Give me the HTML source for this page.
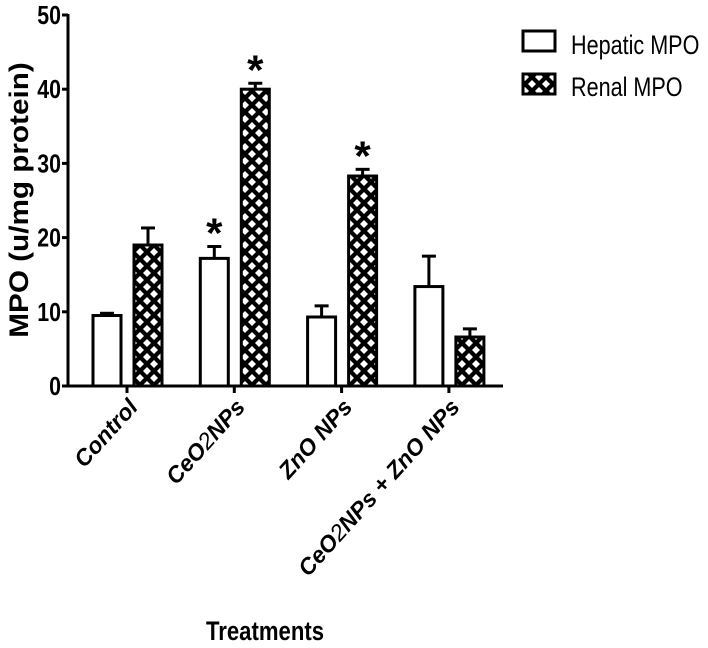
<!DOCTYPE html>
<html><head><meta charset="utf-8"><style>
html,body{margin:0;padding:0;background:#fff;}
svg{display:block;font-family:"Liberation Sans",Arial,sans-serif;}
</style></head><body>
<svg id="chart" width="708" height="648" viewBox="0 0 708 648">
<defs>
<pattern id="hatch" width="14" height="14" patternUnits="userSpaceOnUse" x="0" y="0">
<rect width="14" height="14" fill="#000"/>
<path d="M0,-4 L4,0 L0,4 L-4,0Z M14,-4 L18,0 L14,4 L10,0Z M0,10 L4,14 L0,18 L-4,14Z M14,10 L18,14 L14,18 L10,14Z M7,3 L11,7 L7,11 L3,7Z" fill="#fff"/>
</pattern>
</defs>
<g id="axes"></g>
<g id="bars"></g>
<g id="legend">
<rect x="523" y="31" width="32" height="20" fill="#fff" stroke="#000" stroke-width="3"/>
<text x="571" y="54" font-size="27" transform="translate(571 0) scale(0.8 1) translate(-571 0)">Hepatic MPO</text>
<rect x="523" y="74" width="32" height="20" fill="url(#hatch)" stroke="#000" stroke-width="3"/>
<text x="571" y="96" font-size="27" transform="translate(571 0) scale(0.8 1) translate(-571 0)">Renal MPO</text>
</g>
<text x="0" y="0" font-size="27" font-weight="bold" text-anchor="middle" transform="translate(28 200) rotate(-90) scale(1.1 1)">MPO (u/mg protein)</text>
<text x="265" y="640" font-size="27" font-weight="bold" text-anchor="middle" transform="translate(265 0) scale(0.82 1) translate(-265 0)">Treatments</text>
</svg>
<script>
const categories = ["Control", "CeO2NPs", "ZnO NPs", "CeO2NPs + ZnO NPs"];
const hepatic = [9.5, 17.2, 9.3, 13.4];
const hepaticErr = [0.3, 1.6, 1.5, 4.1];
const renal = [19.0, 40.0, 28.3, 6.6];
const renalErr = [2.3, 0.8, 0.9, 1.1];
const sigHepatic = [false, true, false, false];
const sigRenal = [false, true, true, false];
const yTicks = [0, 10, 20, 30, 40, 50];

const NS = "http://www.w3.org/2000/svg";
const y0 = 386, yTop = 15, yMax = 50;
function yScale(v){ return y0 - (v / yMax) * (y0 - yTop); }
const groupStart = 127, groupStep = 107.3;
function xCenter(i){ return groupStart + i * groupStep; }
function mk(tag, attrs, parent){ const e = document.createElementNS(NS, tag); for (const k in attrs) e.setAttribute(k, attrs[k]); parent.appendChild(e); return e; }

const axes = document.getElementById('axes');
const bars = document.getElementById('bars');
let yl = mk('line', {x1:68, y1:yTop-1, x2:68, y2:y0+1.5, stroke:'#000', 'stroke-width':3}, axes);


let xl = mk('line', {x1:66.5, y1:y0, x2:503, y2:y0, stroke:'#000', 'stroke-width':3}, axes);


yTicks.forEach(t => {
  const y = yScale(t);
  const tk = mk('line', {x1:62, y1:y, x2:68, y2:y, stroke:'#000', 'stroke-width':3}, axes);
  
  
  const lb = mk('text', {x:61, y:y+9, 'font-size':26, 'font-weight':'bold', 'text-anchor':'end', transform:`translate(61 0) scale(0.82 1) translate(-61 0)`}, axes);
  lb.textContent = t;
  
  
});
categories.forEach((c, i) => {
  const x = xCenter(i);
  const tk = mk('line', {x1:x, y1:y0, x2:x, y2:y0+7, stroke:'#000', 'stroke-width':3}, axes);
  
  
  const lb = mk('text', {x:0, y:0, 'font-size':23, 'font-weight':'bold', 'font-style':'italic', 'text-anchor':'end', transform:`translate(${x+12} 408) rotate(-48)`}, axes);
  if (c.indexOf('CeO2') >= 0) {
    const parts = c.split('2');
    lb.appendChild(document.createTextNode(parts[0]));
    const s = document.createElementNS(NS, 'tspan');
    s.setAttribute('font-weight', 'normal');
    s.textContent = '2';
    lb.appendChild(s);
    lb.appendChild(document.createTextNode(parts.slice(1).join('2')));
  } else lb.textContent = c;
  
  
});
const bw = 28;
function drawBar(cx, v, err, sig, hatch, name){
  const top = yScale(v), eTop = yScale(v + err);
  const w = mk('line', {x1:cx, y1:top, x2:cx, y2:eTop, stroke:'#000', 'stroke-width':3}, bars);
  
  
  const cap = mk('line', {x1:cx-7, y1:eTop, x2:cx+7, y2:eTop, stroke:'#000', 'stroke-width':3}, bars);
  
  
  const r = mk('rect', {x:cx-bw/2, y:top, width:bw, height:y0-top, fill:hatch?'url(#hatch)':'#fff', stroke:'#000', 'stroke-width':3}, bars);
  
  
  if (sig) {
    const s = mk('text', {x:cx, y:eTop+1, 'font-size':42, 'font-weight':'bold', 'text-anchor':'middle'}, bars);
    s.textContent = '*';
    
    
  }
}
categories.forEach((c, i) => {
  const x = xCenter(i);
  drawBar(x - 20, hepatic[i], hepaticErr[i], sigHepatic[i], false, 'bar-hepatic-' + i);
  drawBar(x + 21, renal[i], renalErr[i], sigRenal[i], true, 'bar-renal-' + i);
});
</script>
</body></html>
